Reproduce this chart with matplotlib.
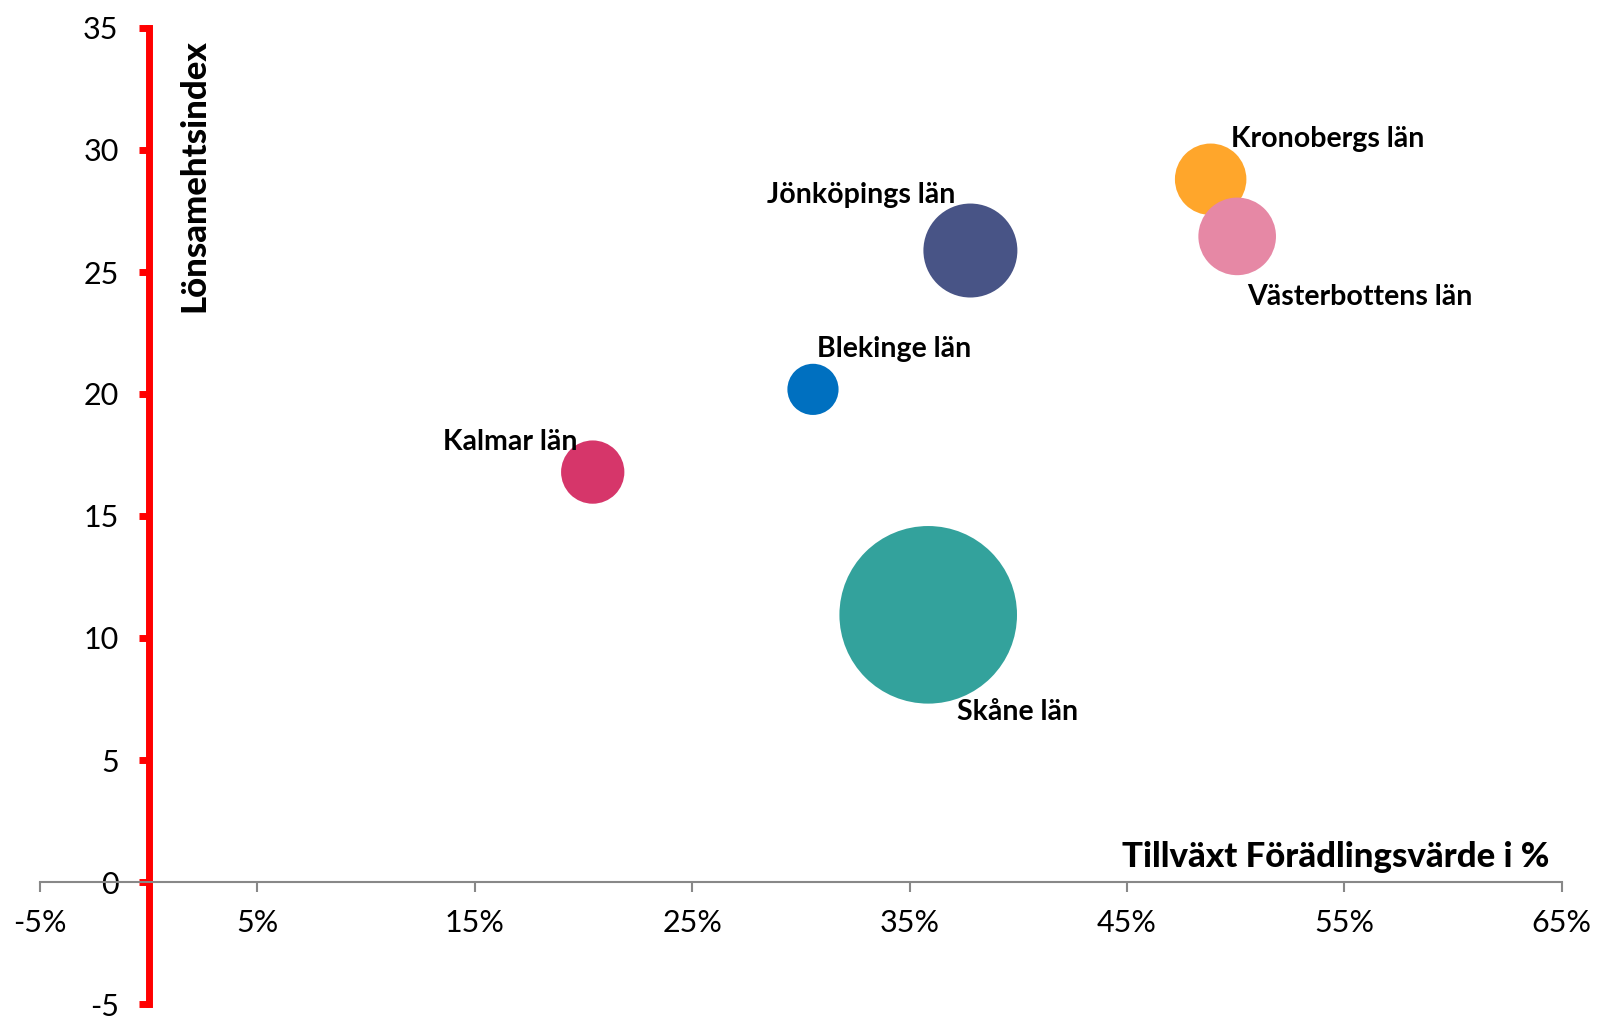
import matplotlib
matplotlib.use("Agg")
import matplotlib.pyplot as plt

# Data: growth in value added (%), profitability index, bubble size (relative)
regions = ["Kronobergs län", "Västerbottens län", "Jönköpings län",
           "Blekinge län", "Kalmar län", "Skåne län"]
growth = [48.85, 50.07, 37.8, 30.56, 20.43, 35.86]
index = [28.8, 26.46, 25.88, 20.19, 16.8, 10.95]
size = [16.2, 19.1, 28.0, 8.3, 12.7, 100.0]
colors = ["#FFA62B", "#E688A5", "#485486", "#0070C0", "#D6366A", "#33A29C"]

x_ticks = [-5, 5, 15, 25, 35, 45, 55, 65]
y_ticks = [-5, 0, 5, 10, 15, 20, 25, 30, 35]

# label offsets (points) and alignment
label_pos = [(15, 29, "left"), (7, -44, "left"), (-11, 40, "right"),
             (3, 29, "left"), (-11, 22, "right"), (21, -70, "left")]

plt.rcParams["font.family"] = ["Lato", "DejaVu Sans"]

fig = plt.figure(figsize=(16, 10.18), dpi=100)
ax = fig.add_axes([39.8 / 1600, 1 - 1004 / 1018, 1522 / 1600, 976 / 1018])

ax.scatter(growth, index, s=[v * 163.5 for v in size], c=colors,
           edgecolors="none", zorder=3)

for name, gx, iy, (dx, dy, ha) in zip(regions, growth, index, label_pos):
    ax.annotate(name, (gx, iy), xytext=(dx, dy), textcoords="offset points",
                ha=ha, va="center", fontsize=20.5, fontweight="bold",
                color="black", zorder=4)

ax.set_xlim(-5, 65)
ax.set_ylim(-5, 35)

ax.spines["top"].set_visible(False)
ax.spines["right"].set_visible(False)
ax.spines["left"].set_position(("data", 0))
ax.spines["bottom"].set_position(("data", 0))
ax.spines["left"].set_color("#FF0000")
ax.spines["left"].set_linewidth(5)
ax.spines["left"].set_zorder(2)
ax.spines["bottom"].set_color("#888888")
ax.spines["bottom"].set_linewidth(1.5)

ax.set_xticks(x_ticks)
ax.set_xticklabels([f"{v}%" for v in x_ticks])
ax.set_yticks(y_ticks)
ax.set_yticklabels([str(v) for v in y_ticks])

ax.tick_params(axis="x", direction="out", length=7.5, width=1.5,
               color="#888888", labelcolor="black", labelsize=22, pad=12)
ax.tick_params(axis="y", direction="out", length=7.5, width=5,
               color="#FF0000", labelcolor="black", labelsize=22, pad=14)

ax.text(0.1013, 0.849, "Lönsamehtsindex", rotation=90, ha="center",
        va="center", fontsize=25, fontweight="black", transform=ax.transAxes)
ax.text(0.9916, 0.1506, "Tillväxt Förädlingsvärde i %", ha="right",
        va="center", fontsize=25, fontweight="black", transform=ax.transAxes)

fig.savefig("out.png", dpi=100)
